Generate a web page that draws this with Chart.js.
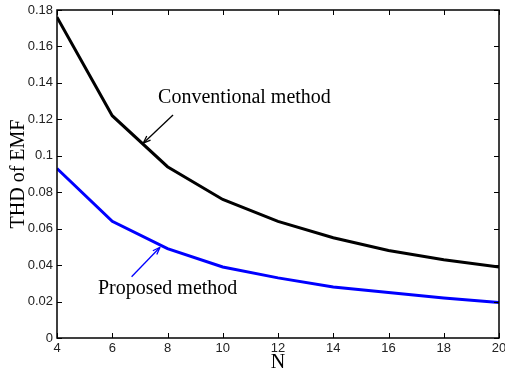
<!DOCTYPE html>
<html>
<head>
<meta charset="utf-8">
<script src="https://cdn.jsdelivr.net/npm/chart.js@4.4.1/dist/chart.umd.min.js"></script>
<style>
  html, body { margin: 0; padding: 0; background: #fff; }
  #wrap { width: 505px; height: 375px; position: relative; }
</style>
</head>
<body>
<div id="wrap"><canvas id="thd"></canvas></div>
<script>
// N values and THD readings taken off the figure
const nValues = [4, 6, 8, 10, 12, 14, 16, 18, 20];
const conventional = [0.176, 0.122, 0.094, 0.076, 0.064, 0.055, 0.048, 0.043, 0.039];
const proposed = [0.093, 0.064, 0.049, 0.039, 0.033, 0.028, 0.025, 0.022, 0.0195];

// annotation labels, anchored in data units
const notes = [
  { text: "Conventional method", x: 7.66, y: 0.1317, color: "#000",
    arrow: { from: [8.2, 0.1224], to: [7.12, 0.1069] } },
  { text: "Proposed method", x: 5.48, y: 0.0269, color: "#0000ff",
    arrow: { from: [6.7, 0.0336], to: [7.73, 0.0498] } },
];

const SERIF = "'Liberation Serif', 'DejaVu Serif', serif";
const SANS = "'Liberation Sans', Arial, sans-serif";

// MATLAB-style box with inward ticks on all four sides
const boxTicks = {
  id: "boxTicks",
  afterDatasetsDraw(chart) {
    const { ctx, chartArea: a, scales } = chart;
    const len = 5;
    ctx.save();
    ctx.strokeStyle = "#000";
    ctx.lineWidth = 1;
    scales.x.ticks.forEach((t) => {
      const px = Math.round(scales.x.getPixelForValue(t.value)) + 0.5;
      ctx.beginPath();
      ctx.moveTo(px, a.bottom); ctx.lineTo(px, a.bottom - len);
      ctx.moveTo(px, a.top); ctx.lineTo(px, a.top + len);
      ctx.stroke();
    });
    scales.y.ticks.forEach((t) => {
      const py = Math.round(scales.y.getPixelForValue(t.value)) + 0.5;
      ctx.beginPath();
      ctx.moveTo(a.left, py); ctx.lineTo(a.left + len, py);
      ctx.moveTo(a.right, py); ctx.lineTo(a.right - len, py);
      ctx.stroke();
    });
    ctx.lineWidth = 1.5;
    ctx.strokeRect(a.left, a.top, a.right - a.left, a.bottom - a.top);
    ctx.restore();
  },
};

// text labels with arrows pointing at the curves
const callouts = {
  id: "callouts",
  afterDatasetsDraw(chart) {
    const { ctx, scales } = chart;
    const X = (v) => scales.x.getPixelForValue(v);
    const Y = (v) => scales.y.getPixelForValue(v);
    ctx.save();
    notes.forEach((n) => {
      ctx.font = "20px " + SERIF;
      ctx.fillStyle = "#000";
      ctx.textBaseline = "middle";
      ctx.textAlign = "left";
      ctx.fillText(n.text, X(n.x), Y(n.y));

      const x1 = X(n.arrow.from[0]), y1 = Y(n.arrow.from[1]);
      const x2 = X(n.arrow.to[0]), y2 = Y(n.arrow.to[1]);
      ctx.strokeStyle = n.color;
      ctx.lineWidth = 1.3;
      ctx.beginPath();
      ctx.moveTo(x1, y1); ctx.lineTo(x2, y2);
      ctx.stroke();
      const ang = Math.atan2(y2 - y1, x2 - x1);
      const h = 8;
      ctx.beginPath();
      ctx.moveTo(x2, y2);
      ctx.lineTo(x2 - h * Math.cos(ang - 0.35), y2 - h * Math.sin(ang - 0.35));
      ctx.moveTo(x2, y2);
      ctx.lineTo(x2 - h * Math.cos(ang + 0.35), y2 - h * Math.sin(ang + 0.35));
      ctx.stroke();
    });
    ctx.restore();
  },
};

new Chart(document.getElementById("thd").getContext("2d"), {
  type: "line",
  data: {
    datasets: [
      {
        label: "Conventional method",
        data: nValues.map((n, i) => ({ x: n, y: conventional[i] })),
        borderColor: "#000",
        borderWidth: 3,
        pointRadius: 0,
        tension: 0,
        fill: false,
      },
      {
        label: "Proposed method",
        data: nValues.map((n, i) => ({ x: n, y: proposed[i] })),
        borderColor: "#0000ff",
        borderWidth: 3,
        pointRadius: 0,
        tension: 0,
        fill: false,
      },
    ],
  },
  options: {
    responsive: true,
    maintainAspectRatio: false,
    animation: false,
    layout: { padding: { top: 10, right: 6, left: 0, bottom: 0 } },
    plugins: { legend: { display: false }, tooltip: { enabled: false } },
    scales: {
      x: {
        type: "linear",
        min: 4,
        max: 20,
        grid: { display: false, drawTicks: false },
        border: { display: false },
        ticks: { stepSize: 2, padding: 3, color: "#222", font: { family: SANS, size: 13 } },
        title: { display: true, text: "N", color: "#000", padding: { top: 0, bottom: 0 },
                 font: { family: SERIF, size: 20 } },
        afterFit: (s) => { s.height = 37; s.paddingLeft = 0; s.paddingRight = 0; },
      },
      y: {
        min: 0,
        max: 0.18,
        grid: { display: false, drawTicks: false },
        border: { display: false },
        ticks: { stepSize: 0.02, padding: 4, color: "#222", font: { family: SANS, size: 13 },
                 callback: (v) => String(Math.round(v * 100) / 100) },
        title: { display: true, text: "THD of EMF", color: "#000", padding: { top: 7, bottom: 0 },
                 font: { family: SERIF, size: 20 } },
        afterFit: (s) => { s.width = 57; s.paddingTop = 0; s.paddingBottom = 0; },
      },
    },
  },
  plugins: [boxTicks, callouts],
});
</script>
</body>
</html>
